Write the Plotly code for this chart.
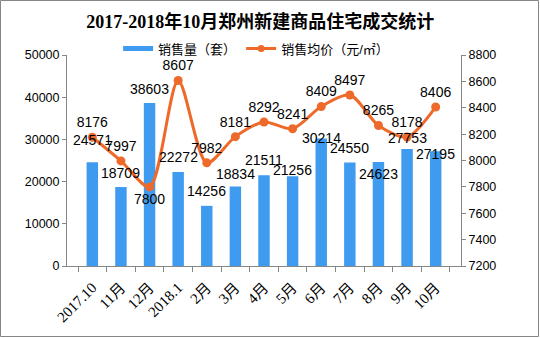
import plotly.graph_objects as go

categories = ["2017.10", "11月", "12月", "2018.1", "2月", "3月", "4月", "5月", "6月", "7月", "8月", "9月", "10月"]
sales_volume = [24571, 18709, 38603, 22272, 14256, 18834, 21511, 21256, 30214, 24550, 24623, 27753, 27195]
avg_price = [8176, 7997, 7800, 8607, 7982, 8181, 8292, 8241, 8409, 8497, 8265, 8178, 8406]

# label placement styles (pixel offsets of the bar value labels, text positions of the line labels)
bar_label_shift = [22, 14, 14, 15, 15, 13, 15, 6, 1, 14, -12, 11, -3]
line_label_pos = ["top center", "top center", "bottom center", "top center", "top center",
                  "top center", "top center", "top center", "top center", "top center",
                  "top center", "top center", "top center"]

SANS = "Liberation Sans, Noto Sans CJK SC, sans-serif"
SERIF = "Liberation Serif, Noto Sans CJK SC, serif"
BLUE = "#3E9BEF"
ORANGE = "#EE6A2A"
AX = "#868686"

fig = go.Figure()
fig.add_trace(go.Bar(
    x=categories, y=sales_volume, name="销售量（套）", showlegend=False,
    marker=dict(color=BLUE, line=dict(width=0)),
))
fig.add_trace(go.Scatter(
    x=categories, y=avg_price, name="销售均价（元/㎡）", yaxis="y2", showlegend=False,
    mode="lines+markers+text",
    line=dict(color=ORANGE, width=3, shape="spline", smoothing=0.8),
    marker=dict(color=ORANGE, size=9),
    text=[str(v) for v in avg_price], textposition=line_label_pos,
    textfont=dict(family=SANS, size=14, color="#000000"),
    cliponaxis=False,
))
# legend entries
fig.add_trace(go.Scatter(
    x=[None], y=[None], name="销售量（套）", mode="lines",
    line=dict(color=BLUE, width=5),
))
fig.add_trace(go.Scatter(
    x=[None], y=[None], name="销售均价（元/㎡）", mode="lines+markers", yaxis="y2",
    line=dict(color=ORANGE, width=3), marker=dict(color=ORANGE, size=7),
))

# bar value labels: x given as category index on the category axis
for i, (v, s) in enumerate(zip(sales_volume, bar_label_shift)):
    fig.add_annotation(x=i, y=v, xref="x", yref="y", text=str(v), showarrow=False,
                       yanchor="middle", yshift=s,
                       font=dict(family=SANS, size=14, color="#000000"))

W, H = 540, 338
ml, mr, mt, mb = 67, 79, 55, 72
pw, ph = W - ml - mr, H - mt - mb

fig.update_layout(
    width=W, height=H,
    margin=dict(l=ml, r=mr, t=mt, b=mb),
    paper_bgcolor="white", plot_bgcolor="white",
    font=dict(family=SANS, size=12.5, color="#000000"),
    title=dict(text="<b>2017-2018年10月郑州新建商品住宅成交统计</b>",
               x=0.482, xanchor="center", y=0.935, yanchor="middle",
               font=dict(family=SERIF, size=18, color="#000000")),
    bargap=0.6,
    showlegend=True,
    legend=dict(orientation="h", x=0.48, xanchor="center", y=1.03, yanchor="middle",
                font=dict(family=SANS, size=13), bgcolor="rgba(0,0,0,0)",
                itemwidth=30, traceorder="normal"),
    xaxis=dict(type="category", categoryorder="array", categoryarray=categories,
               tickson="boundaries", ticks="outside", ticklen=5,
               tickcolor=AX, showline=True, linecolor=AX, linewidth=1,
               tickangle=-45, ticklabelstandoff=6, showgrid=False,
               tickfont=dict(family=SERIF, size=15)),
    yaxis=dict(range=[0, 50000], dtick=10000, tickformat="d", ticks="outside", ticklen=4,
               tickcolor=AX, showline=True, linecolor=AX,
               showgrid=False, zeroline=False, tickfont=dict(family=SANS, size=12.5)),
    yaxis2=dict(range=[7200, 8800], dtick=200, tickformat="d", overlaying="y", side="right",
                ticks="outside", ticklen=4, tickcolor=AX, showline=True,
                linecolor=AX, showgrid=False, zeroline=False,
                tickfont=dict(family=SANS, size=12.5)),
)

fig.add_shape(type="rect", xref="paper", yref="paper",
              x0=-(ml - 0.5) / pw, x1=1 + (mr - 1.5) / pw,
              y0=-(mb - 1.5) / ph, y1=1 + (mt - 0.5) / ph,
              line=dict(color=AX, width=1), fillcolor="rgba(0,0,0,0)", layer="below")

fig.write_html("out.html")
